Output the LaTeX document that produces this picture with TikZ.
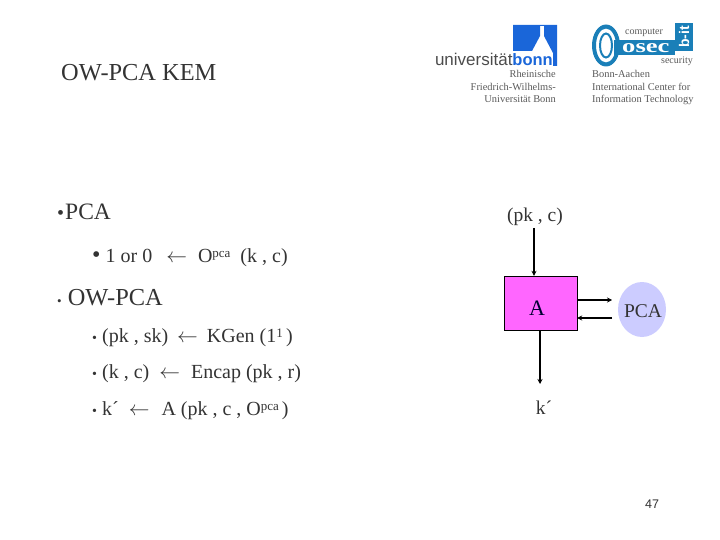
\documentclass[tikz,border=0pt]{standalone}
\usepackage{fontspec}
\setmainfont{Liberation Serif}
\setsansfont{Liberation Sans}
\usepackage{xcolor}
\usetikzlibrary{shapes, arrows.meta, positioning}
\definecolor{inkgrey}{HTML}{333333}
\definecolor{boxpink}{HTML}{FF66FF}
\definecolor{orapale}{HTML}{CCCCFF}
\definecolor{bonnblue}{HTML}{1A66D9}
\definecolor{cosecblue}{HTML}{1A7FB8}
\newcommand{\sz}[1]{\fontsize{#1}{#1}\selectfont}
\newcommand{\smallup}[1]{\raisebox{5pt}{\sz{13}#1}}
\begin{document}
\begin{tikzpicture}[x=1pt, y=-1pt, text=inkgrey,
            big/.style={anchor=base west, inner sep=0pt, font=\sz{24}},
            item/.style={anchor=base west, inner sep=0pt, font=\sz{20}},
            lab/.style={inner sep=0pt, font=\sz{19.5}},
            logotxt/.style={inner sep=0pt, text=black!65, font=\sz{10.4}},
            conn/.style={-{Stealth[length=5pt, width=5pt]}, black, line width=1.1pt}]
            \useasboundingbox (0,0) rectangle (720,540);

            % left column
            \node[big] (title) at (61,81) {\sz{24.4}OW-PCA KEM};
            \node[big] (pca) at (57,219) {\sz{20}•\hspace{1pt}\sz{23.5}PCA};
            \node[item] (pcaline) at (92,262) {\sz{24}•\sz{20}\ 1 or 0\hspace{14pt}$\leftarrow$\hspace{11pt}O\smallup{pca}\hspace{10pt}(k , c)};
            \node[big] (owpca) at (57,305) {\sz{13}•\sz{24.4}\ OW-PCA};
            \node[item] (keygen) at (92,342) {\sz{14}•\sz{20}\ (pk , sk)\hspace{9pt}$\leftarrow$\hspace{9pt}KGen (1\smallup{1}\,)};
            \node[item] (encap) at (92,378) {\sz{14}•\sz{20}\ (k , c)\hspace{10pt}$\leftarrow$\hspace{11pt}Encap (pk , r)};
            \node[item] (adv) at (92,415) {\sz{14}•\sz{20}\ k´\hspace{10pt}$\leftarrow$\hspace{12pt}A (pk , c , O\smallup{pca}\hspace{3pt})};

            % right column
            \node[lab] (input) at (535,217) {(pk , c)};
            \node[draw=black, fill=boxpink, minimum width=73pt, minimum height=54pt, inner sep=0pt,
                  text=black!80!blue, font=\sz{22}] (adversary) at (540.5,303) {\raisebox{-12pt}[0pt][0pt]{\makebox[0pt]{A\hspace{7pt}}}};
            \node[ellipse, fill=orapale, minimum width=48pt, minimum height=55pt, inner sep=0pt,
                  font=\sz{19.5}] (oracle) at (642,309.5) {\raisebox{-7.5pt}[0pt][0pt]{\makebox[0pt]{\hspace{2pt}PCA}}};
            \node[lab] (output) at (544,408) {k´};

            \coordinate (intop) at (534,228);
            \coordinate (outend) at (540,384);
            \coordinate (qend) at (612,300);
            \coordinate (rstart) at (612,318);

            \draw[conn] (intop) -- (intop |- adversary.north);
            \draw[conn] (outend |- adversary.south) -- (outend);
            \draw[conn] (adversary.east |- qend) -- (qend);
            \draw[conn] (rstart) -- (adversary.east |- rstart);

            % logos
            \fill[bonnblue] (513,25) -- (557,25) -- (557,66) -- (553,66) -- (553,53) -- (544,36) -- (544,26) -- (540,26) -- (540,36) -- (532,51) -- (513,51) -- cycle;
            \node[anchor=base east, inner sep=0pt, text=black!70, font=\sffamily\sz{17}] (uni) at (553,66) {universität\textcolor{bonnblue}{\textbf{\sz{16.5}bonn}}};
            \node[logotxt, anchor=base east] (rhein) at (556,78) {Rheinische};
            \node[logotxt, anchor=base east] (fried) at (556,90.5) {Friedrich-Wilhelms-};
            \node[logotxt, anchor=base east] (ubonn) at (556,103) {Universität Bonn};

            \fill[cosecblue, even odd rule] (606,45.5) ellipse (14pt and 21pt) (606,45.5) ellipse (10pt and 17pt);
            \draw[cosecblue, line width=2pt] (606,45.5) ellipse (6pt and 12pt);
            \fill[cosecblue] (614,40) rectangle (675,55);
            \fill[cosecblue] (675,23) rectangle (693,51);
            \node[rotate=90, inner sep=0pt, text=white, font=\sffamily\bfseries\sz{14}] (bit) at (684,37) {b-it};
            \node[inner sep=0pt, anchor=base west, text=white, font=\bfseries\sz{19}] (osec) at (622,53) {\scalebox{1.4}[1]{osec}};
            \node[logotxt, anchor=base west, font=\sz{10}] (comp) at (625,35) {computer};
            \node[logotxt, anchor=base east, font=\sz{10}] (secur) at (693,64) {security};
            \node[logotxt, anchor=base west] (baic) at (592,78) {Bonn-Aachen};
            \node[logotxt, anchor=base west] (icenter) at (592,90.5) {International Center for};
            \node[logotxt, anchor=base west] (infotech) at (592,103) {Information Technology};

            \node[anchor=base, inner sep=0pt, font=\sffamily\sz{12.5}] (pagenum) at (652,508) {47};
        \end{tikzpicture}
\end{document}
